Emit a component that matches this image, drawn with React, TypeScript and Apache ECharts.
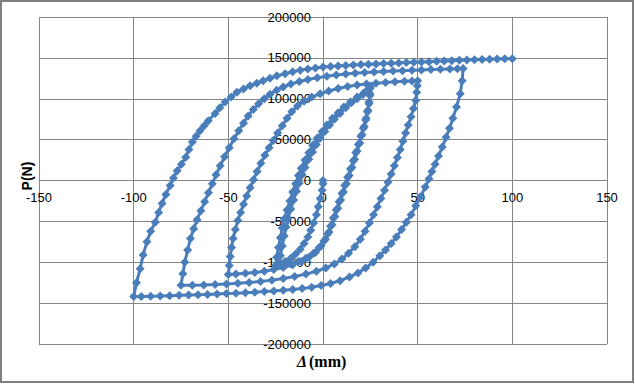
import React, { useEffect, useRef } from "react";
import * as echarts from "echarts";

// Δ (mm) , P (N) pairs, one array per half-cycle of the loading history
const initialLoad: [number, number][] = [
  [0, 0], [0, -4000], [-0.5, -12000], [-1.5, -22000], [-2.5, -32000], [-3.5, -42000], [-5, -52000],
  [-6.5, -61000], [-8, -69000], [-10, -77000], [-12, -84000], [-14.5, -90000], [-17, -95000],
  [-20, -99000], [-23, -101000],
];
const rise25a: [number, number][] = [
  [-22.5, -92000], [-21.5, -80000], [-20.5, -68000], [-19.5, -57000], [-18.5, -46000], [-17, -35000],
  [-15.5, -24000], [-14, -13000], [-12.5, -3000], [-11, 7000], [-9.5, 16000], [-7.5, 26000],
  [-5.5, 35000], [-3.5, 44000], [-1.5, 52000], [1, 60000], [3.5, 68000], [6, 75000], [9, 82000],
  [12, 89000], [15, 95000], [18, 100000], [21, 105000], [24, 110000], [25, 113000],
];
const unload25a: [number, number][] = [
  [24.8, 104000], [24.3, 94000], [23.5, 84000], [22.5, 74000], [21.3, 64000], [20, 54000],
  [18.7, 44000], [17.3, 34000], [16, 24000], [14.5, 14000], [13, 4000], [11.5, -6000], [10, -16000],
  [8.5, -26000], [7, -36000], [5.5, -46000], [4, -56000], [2.5, -65000], [0.5, -74000], [-2, -82000],
  [-5, -89000], [-9, -95000], [-13, -99000], [-17, -102000], [-21, -103500], [-25, -104000],
];
const rise25b: [number, number][] = [
  [-24.5, -94000], [-23.5, -82000], [-22.5, -70000], [-21.5, -58000], [-20.5, -47000], [-19, -36000],
  [-17.5, -25000], [-16, -14000], [-14.5, -4000], [-13, 6000], [-11.5, 15000], [-9.5, 25000],
  [-7.5, 34000], [-5.5, 43000], [-3, 52000], [-0.5, 60000], [2, 68000], [5, 76000], [8, 83000],
  [11, 90000], [14.5, 96000], [18, 102000], [21.5, 107000], [24, 112000], [25, 115000],
];
const unload25b: [number, number][] = [
  [24.8, 106000], [24.3, 96000], [23.7, 86000], [22.8, 76000], [21.8, 66000], [20.6, 56000],
  [19.4, 46000], [18, 36000], [16.7, 26000], [15.3, 16000], [13.8, 6000], [12.3, -4000],
  [10.8, -14000], [9.3, -24000], [7.8, -34000], [6.3, -44000], [4.8, -54000], [3.2, -63000],
  [1.3, -72000], [-1, -80000], [-4, -88000], [-7.5, -94000], [-11.5, -99000], [-16, -103000],
  [-21, -106500], [-26, -109000], [-31, -111000], [-36, -112500], [-41, -113500], [-46, -114500],
  [-50, -115000],
];
const rise50: [number, number][] = [
  [-49.5, -104000], [-49, -93000], [-48.3, -82000], [-47.5, -71000], [-46.3, -60000], [-45, -49000],
  [-43.5, -39000], [-42, -29000], [-40.3, -19000], [-38.5, -9000], [-36.7, 1000], [-34.8, 11000],
  [-32.8, 21000], [-30.7, 31000], [-28.5, 40000], [-26.3, 49000], [-24, 58000], [-21.5, 67000],
  [-19, 76000], [-16.5, 84000], [-13.5, 91000], [-10, 97000], [-6, 102000], [-1.5, 106000],
  [3, 109500], [8, 112500], [13, 115000], [18, 116800], [23, 118000], [28, 119000], [33, 119900],
  [38, 120700], [43, 121300], [47, 121800], [50, 122000],
];
const unload50: [number, number][] = [
  [49.8, 116000], [49.5, 108000], [49, 98000], [47.8, 88000], [46.5, 78000], [45, 68000],
  [43.6, 58000], [42.2, 48000], [40.8, 38000], [39.3, 28000], [37.7, 18000], [36, 8000],
  [34.3, -2000], [32.5, -12000], [30.6, -22000], [28.7, -32000], [26.7, -42000], [24.5, -52000],
  [22.2, -62000], [19.7, -72000], [16.8, -81000], [13.5, -89000], [10, -96000], [6, -102000],
  [1.5, -107000], [-3.5, -111000], [-9, -114500], [-15, -117500], [-21, -120000], [-27, -122000],
  [-33, -123500], [-39, -124800], [-45, -125800], [-51, -126600], [-57, -127200], [-63, -127700],
  [-69, -128000], [-75, -128200],
];
const rise75: [number, number][] = [
  [-74, -114000], [-73, -100000], [-71.5, -85000], [-70, -71000], [-68.3, -59000], [-66.5, -48000],
  [-64.5, -37000], [-62.5, -26000], [-60.5, -15000], [-58.5, -4000], [-56.5, 7000], [-54.3, 18000],
  [-52, 29000], [-49.5, 40000], [-47, 51000], [-44.5, 61000], [-42, 70000], [-39.5, 79000],
  [-36.8, 87000], [-34, 94000], [-31, 100000], [-28, 105500], [-24.5, 110500], [-21, 114500],
  [-17, 118000], [-12.5, 121000], [-8, 123500], [-3, 125700], [2, 127500], [7, 129000],
  [12, 130200], [17, 131200], [22, 132000], [27, 132700], [32, 133300], [37, 133900], [42, 134400],
  [47, 134900], [52, 135300], [57, 135700], [62, 136100], [67, 136500], [71, 136800], [74, 137000],
];
const unload75: [number, number][] = [
  [73.5, 122000], [72.5, 106000], [70.5, 90000], [68.6, 76000], [66.8, 64000], [65, 53000],
  [63, 41000], [61, 30000], [59.2, 20000], [57.5, 11000], [56, 2000], [54, -8000], [51.5, -20000],
  [49, -31000], [46.5, -42000], [44, -51000], [41.5, -60000], [38.8, -69000], [36, -77000],
  [33, -85000], [30, -92000], [26.5, -100000], [22.5, -107000], [18.5, -113000], [14, -118000],
  [9, -122500], [4, -126000], [-1, -128500], [-6, -130500], [-11, -132000], [-16, -133200],
  [-21, -134200], [-26, -135100], [-31, -135900], [-36, -136600], [-41, -137200], [-46, -137800],
  [-51, -138300], [-56, -138800], [-61, -139300], [-66, -139700], [-71, -140100], [-76, -140500],
  [-81, -140900], [-86, -141300], [-91, -141600], [-96, -141900], [-100, -142000],
];
const rise100: [number, number][] = [
  [-98.5, -125000], [-96.6, -108000], [-95, -91000], [-93, -75000], [-91, -62000], [-88.6, -51000],
  [-86.8, -39000], [-85, -28000], [-83, -17000], [-80.7, -6000], [-79, 3000], [-77, 12000],
  [-74.8, 20000], [-72.5, 28500], [-70.8, 38000], [-69, 47000], [-67, 54000], [-65, 61000],
  [-62.8, 67000], [-60.6, 73000], [-57, 82000], [-54.5, 89000], [-51.7, 96000], [-48.5, 102000],
  [-45.5, 108000], [-42, 112000], [-38.5, 116000], [-35, 119000], [-31.6, 122000], [-28, 125000],
  [-24.4, 128000], [-20, 130500], [-16, 133000], [-12, 135000], [-8, 136500], [-4, 137700],
  [0, 138700], [4, 139500], [8, 140200], [12, 140800], [16, 141300], [20, 141800], [24, 142200],
  [28, 142600], [32, 143000], [36, 143400], [40, 143800], [44, 144200], [48, 144600], [52, 145000],
  [56, 145400], [60, 145800], [64, 146200], [68, 146600], [72, 147000], [76, 147300], [80, 147700],
  [84, 148000], [88, 148300], [92, 148600], [96, 148800], [100, 149000],
];

const xRange = [-150, 150];
const xStep = 50;
const yRange = [-200000, 200000];
const yStep = 50000;
const xTitleSymbol = "Δ";
const xTitleUnit = "(mm)";
const yTitle = "P(N)";

const SERIES_COLOR = "#4A7EBB";
const GRID_COLOR = "#868686";

const W = 635;
const H = 384;
const GRID = { left: 39, right: 28, top: 17, bottom: 40 };

export default function App() {
  const ref = useRef<HTMLDivElement>(null);
  useEffect(() => {
    if (!ref.current) return;
    const chart = echarts.init(ref.current, undefined, { renderer: "svg" });
    const data = [
      ...initialLoad, ...rise25a, ...unload25a, ...rise25b, ...unload25b,
      ...rise50, ...unload50, ...rise75, ...unload75, ...rise100,
    ];
    const plotW = W - GRID.left - GRID.right;
    const plotH = H - GRID.top - GRID.bottom;
    // move the axes so that they cross at the origin, as in the reference
    const yAxisOffset = -plotW * ((0 - xRange[0]) / (xRange[1] - xRange[0]));
    const xAxisOffset = -plotH * ((0 - yRange[0]) / (yRange[1] - yRange[0]));
    const labelStyle = { color: "#000", fontFamily: "Liberation Sans", fontSize: 13 };
    chart.setOption({
      animation: false,
      backgroundColor: "#fff",
      grid: GRID,
      xAxis: {
        type: "value",
        min: xRange[0],
        max: xRange[1],
        interval: xStep,
        offset: xAxisOffset,
        axisLine: { show: true, onZero: false, lineStyle: { color: GRID_COLOR, width: 1 } },
        axisTick: { show: false },
        axisLabel: { ...labelStyle, margin: 10, formatter: (v: number) => String(v) },
        splitLine: { show: true, lineStyle: { color: GRID_COLOR, width: 1 } },
      },
      yAxis: {
        type: "value",
        min: yRange[0],
        max: yRange[1],
        interval: yStep,
        offset: yAxisOffset,
        axisLine: { show: true, onZero: false, lineStyle: { color: GRID_COLOR, width: 1 } },
        axisTick: { show: false },
        axisLabel: { ...labelStyle, margin: 12, formatter: (v: number) => String(v) },
        splitLine: { show: true, lineStyle: { color: GRID_COLOR, width: 1 } },
      },
      series: [
        {
          type: "line",
          data,
          symbol: "diamond",
          symbolSize: 9,
          showSymbol: true,
          showAllSymbol: true,
          lineStyle: { color: SERIES_COLOR, width: 3 },
          itemStyle: { color: SERIES_COLOR },
          z: 3,
        },
      ],
      graphic: [
        {
          type: "rect",
          shape: { x: 1, y: 1, width: 632, height: 381 },
          style: { fill: "none", stroke: "#7f7f7f", lineWidth: 2 },
          silent: true,
        },
        {
          type: "text",
          x: 27,
          y: 176,
          rotation: Math.PI / 2,
          style: {
            text: yTitle,
            font: 'bold 14px "Liberation Sans"',
            fill: "#000",
            align: "center",
            verticalAlign: "middle",
          },
        },
        {
          type: "text",
          x: 297,
          y: 361,
          style: {
            text: xTitleSymbol,
            font: 'italic bold 16px "Liberation Serif"',
            fill: "#000",
            align: "left",
            verticalAlign: "middle",
          },
        },
        {
          type: "text",
          x: 309,
          y: 361,
          style: {
            text: xTitleUnit,
            font: 'bold 16px "Liberation Serif"',
            fill: "#000",
            align: "left",
            verticalAlign: "middle",
          },
        },
      ],
    });
    return () => chart.dispose();
  }, []);
  return (
    <div
      ref={ref}
      style={{ position: "fixed", left: 0, top: 0, width: W, height: H }}
    />
  );
}
